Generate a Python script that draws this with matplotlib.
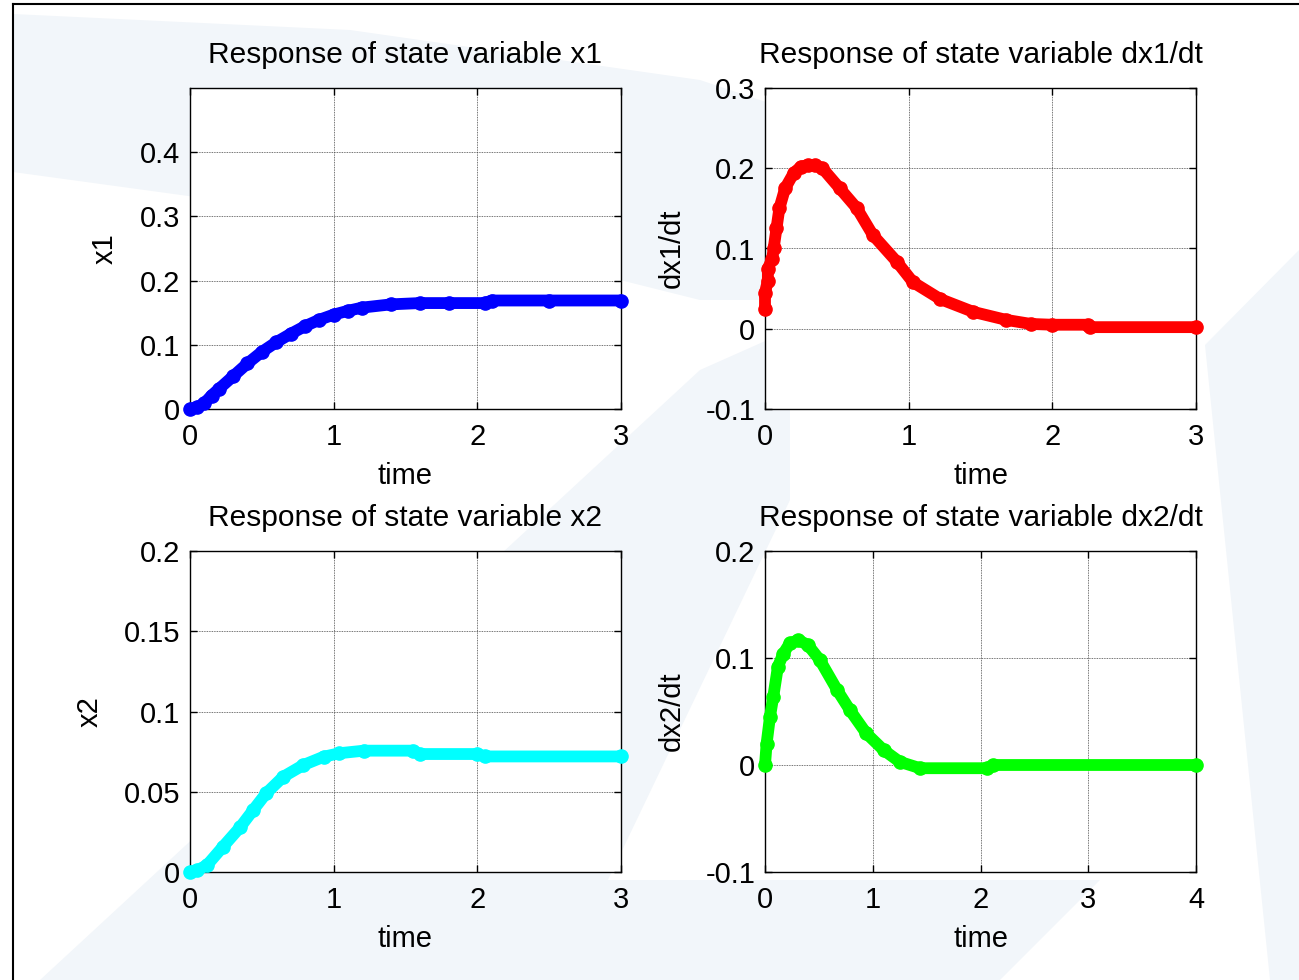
import matplotlib
matplotlib.use("Agg")
import matplotlib.pyplot as plt
from matplotlib.patches import Polygon
from matplotlib.lines import Line2D

plt.rcParams['font.family'] = ['Liberation Sans', 'DejaVu Sans']

# --- data ---
t_x1 = [0, 0.05, 0.1, 0.15, 0.2, 0.3, 0.4, 0.5, 0.6, 0.7, 0.8, 0.9, 1.0, 1.1, 1.2,
        1.4, 1.6, 1.8, 2.05, 2.1, 2.5, 3.0]
x1 = [0, 0.003, 0.009, 0.021, 0.031, 0.051, 0.071, 0.089, 0.104, 0.117, 0.129, 0.139,
      0.147, 0.153, 0.158, 0.163, 0.165, 0.165, 0.165, 0.169, 0.169, 0.169]

t_dx1 = [0, 0.0, 0.02, 0.02, 0.05, 0.06, 0.08, 0.1, 0.14, 0.2, 0.25, 0.3, 0.35, 0.4,
         0.52, 0.64, 0.75, 0.92, 1.03, 1.22, 1.45, 1.68, 1.85, 2.0, 2.25, 2.26, 3.0]
dx1 = [0.025, 0.045, 0.06, 0.075, 0.087, 0.1, 0.125, 0.15, 0.175, 0.194, 0.202, 0.204,
       0.204, 0.200, 0.175, 0.15, 0.117, 0.083, 0.058, 0.037, 0.021, 0.011, 0.006,
       0.005, 0.005, 0.002, 0.002]

t_x2 = [0, 0.05, 0.12, 0.23, 0.35, 0.44, 0.53, 0.65, 0.79, 0.93, 1.04, 1.21, 1.55,
        1.6, 2.0, 2.05, 3.0]
x2 = [0, 0.001, 0.0044, 0.0158, 0.028, 0.0386, 0.049, 0.0594, 0.0667, 0.0718, 0.074,
      0.0756, 0.0756, 0.0735, 0.0735, 0.0720, 0.0720]

t_dx2 = [0, 0.015, 0.046, 0.077, 0.12, 0.17, 0.23, 0.31, 0.40, 0.51, 0.67, 0.79, 0.94,
         1.1, 1.25, 1.44, 2.06, 2.12, 4.0]
dx2 = [0, 0.02, 0.045, 0.064, 0.092, 0.104, 0.1137, 0.1168, 0.112, 0.098, 0.070, 0.051,
       0.0296, 0.014, 0.003, -0.003, -0.003, 0.0, 0.0]

panels = [
    # (t, y, colour, title, ylabel, xlim, ylim, xticks, yticks, yticklabels, ylabel_x)
    (t_x1, x1, '#0000FF', 'Response of state variable x1', 'x1', (0, 3), (0, 0.5),
     [0, 1, 2, 3], [0, 0.1, 0.2, 0.3, 0.4], ['0', '0.1', '0.2', '0.3', '0.4'], -0.197),
    (t_dx1, dx1, '#FF0000', 'Response of state variable dx1/dt', 'dx1/dt', (0, 3), (-0.1, 0.3),
     [0, 1, 2, 3], [-0.1, 0, 0.1, 0.2, 0.3], ['-0.1', '0', '0.1', '0.2', '0.3'], -0.216),
    (t_x2, x2, '#00FFFF', 'Response of state variable x2', 'x2', (0, 3), (0, 0.2),
     [0, 1, 2, 3], [0, 0.05, 0.1, 0.15, 0.2], ['0', '0.05', '0.1', '0.15', '0.2'], -0.232),
    (t_dx2, dx2, '#00FF00', 'Response of state variable dx2/dt', 'dx2/dt', (0, 4), (-0.1, 0.2),
     [0, 1, 2, 3, 4], [-0.1, 0, 0.1, 0.2], ['-0.1', '0', '0.1', '0.2'], -0.216),
]

W, H = 1299, 980
fig = plt.figure(figsize=(W / 100, H / 100), dpi=100)
fig.patch.set_facecolor('white')

# faint watermark shapes behind the axes
wm = '#F2F6FA'
shapes = [
    [(13, 14), (350, 30), (700, 80), (790, 110), (790, 300), (700, 300), (400, 225), (13, 172)],
    [(40, 980), (700, 370), (790, 330), (790, 500), (560, 980)],
    [(1205, 345), (1299, 250), (1299, 980), (1270, 980)],
    [(560, 880), (1100, 880), (1000, 980), (500, 980)],
]
for pts in shapes:
    fig.patches.append(Polygon([(x / W, 1 - y / H) for x, y in pts], closed=True,
                               transform=fig.transFigure, facecolor=wm, edgecolor='none',
                               zorder=-10))

# figure border (left and top edges)
fig.add_artist(Line2D([13 / W, 13 / W], [0, 1 - 4 / H], color='black', lw=1.5,
                      transform=fig.transFigure))
fig.add_artist(Line2D([13 / W, 1], [1 - 4 / H, 1 - 4 / H], color='black', lw=1.5,
                      transform=fig.transFigure))

rects = [(190, 88), (765, 88), (190, 551), (765, 551)]
aw, ah = 431, 321

for (px, py), p in zip(rects, panels):
    t, y, col, title, ylab, xlim, ylim, xt, yt, ytl, ylx = p
    ax = fig.add_axes([px / W, 1 - (py + ah) / H, aw / W, ah / H])
    ax.set_facecolor('white')
    ax.plot(t, y, '-', color=col, lw=8.5, solid_capstyle='round', solid_joinstyle='round',
            marker='o', ms=9.5, mec=col, mfc=col, clip_on=False, zorder=3)
    ax.set_xlim(*xlim)
    ax.set_ylim(*ylim)
    ax.set_xticks(xt)
    ax.set_yticks(yt)
    ax.set_yticklabels(ytl)
    ax.grid(True, linestyle=(0, (1, 1)), color='#444444', lw=0.6)
    ax.set_axisbelow(True)
    ax.tick_params(direction='in', top=True, right=True, length=5, width=1,
                   labelsize=21, colors='black')
    ax.tick_params(axis='x', pad=10)
    ax.tick_params(axis='y', pad=7)
    for s in ax.spines.values():
        s.set_linewidth(1.0)
    ax.set_title(title, fontsize=21.5, y=1 + 33 / ah, va='center', pad=0)
    ax.set_xlabel('time', fontsize=21)
    ax.xaxis.label.set_va('center')
    ax.xaxis.set_label_coords(0.5, -67 / ah)
    ax.set_ylabel(ylab, fontsize=21)
    ax.yaxis.label.set_va('center')
    ax.yaxis.set_label_coords(ylx, 0.5)

fig.savefig('out.png', dpi=100, facecolor='white')
